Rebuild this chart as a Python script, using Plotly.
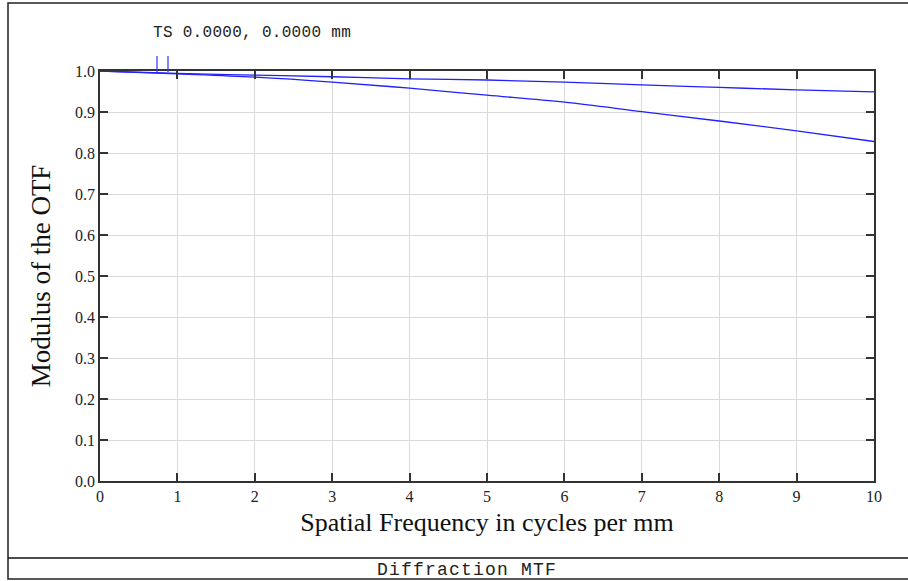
import plotly.graph_objects as go

freq = [0, 1, 2, 3, 4, 5, 6, 7, 8, 9, 10]
mtf_t = [1.0, 0.994, 0.990, 0.986, 0.981, 0.978, 0.973, 0.966, 0.960, 0.954, 0.949]
mtf_s = [1.0, 0.993, 0.985, 0.973, 0.958, 0.941, 0.924, 0.901, 0.878, 0.854, 0.828]
x_ticks = [0, 1, 2, 3, 4, 5, 6, 7, 8, 9, 10]
y_ticks = [0.0, 0.1, 0.2, 0.3, 0.4, 0.5, 0.6, 0.7, 0.8, 0.9, 1.0]

W, H = 908, 581
L, R, T, B = 100, 34, 71, 100
PW, PH = W - L - R, H - T - B

def px(x):
    return (x - L) / PW

def py(y):
    return (H - B - y) / PH

fig = go.Figure()
for vals, name in [(mtf_t, "T"), (mtf_s, "S")]:
    fig.add_trace(go.Scatter(x=freq, y=vals, mode="lines", name=name,
                             line=dict(color="#2020ff", width=1.3, shape="spline"),
                             showlegend=False))

serif = "Liberation Serif, Times New Roman, serif"
mono = "Liberation Mono, Courier New, monospace"

axis_common = dict(showline=True, mirror="ticks", linecolor="#333333", linewidth=1.5,
                   ticks="inside", ticklen=8, tickcolor="#333333", tickwidth=1.5,
                   showgrid=True, gridcolor="#d9d9d9", gridwidth=1, zeroline=False,
                   tickfont=dict(family=serif, size=16, color="#222222"))

fig.update_layout(
    width=W, height=H,
    margin=dict(l=L, r=R, t=T, b=B),
    paper_bgcolor="white", plot_bgcolor="white",
    xaxis=dict(range=[0, 10], tickvals=x_ticks, ticktext=[str(v) for v in x_ticks],
               title=dict(text="Spatial Frequency in cycles per mm",
                          font=dict(family=serif, size=26, color="#111111"), standoff=9),
               **axis_common),
    yaxis=dict(range=[0, 1], tickvals=y_ticks, ticktext=[f"{v:.1f}" for v in y_ticks],
               title=dict(text="Modulus of the OTF",
                          font=dict(family=serif, size=27, color="#111111"), standoff=17),
               **axis_common),
    shapes=[
        # outer frame
        dict(type="rect", xref="paper", yref="paper", x0=px(8), x1=px(912), y0=py(579), y1=py(3),
             line=dict(color="#222222", width=1.5), layer="below"),
        # separator above footer
        dict(type="line", xref="paper", yref="paper", x0=px(8), x1=px(912), y0=py(558), y1=py(558),
             line=dict(color="#111111", width=1.5)),
        # legend markers
        dict(type="line", xref="paper", yref="paper", x0=px(157), x1=px(157), y0=py(72), y1=py(56),
             line=dict(color="#3030ff", width=1.2)),
        dict(type="line", xref="paper", yref="paper", x0=px(168), x1=px(168), y0=py(72), y1=py(56),
             line=dict(color="#3030ff", width=1.2)),
    ],
    annotations=[
        dict(text='<span style="letter-spacing:0.3px">TS 0.0000, 0.0000 mm</span>',
             xref="paper", yref="paper", x=px(151), y=py(33),
             xanchor="left", yanchor="middle", showarrow=False,
             font=dict(family=mono, size=16, color="#222222")),
        dict(text='<span style="letter-spacing:1.2px">Diffraction MTF</span>',
             xref="paper", yref="paper", x=px(375), y=py(570),
             xanchor="left", yanchor="middle", showarrow=False,
             font=dict(family=mono, size=18, color="#222222")),
    ],
)

fig.write_html("out.html")
